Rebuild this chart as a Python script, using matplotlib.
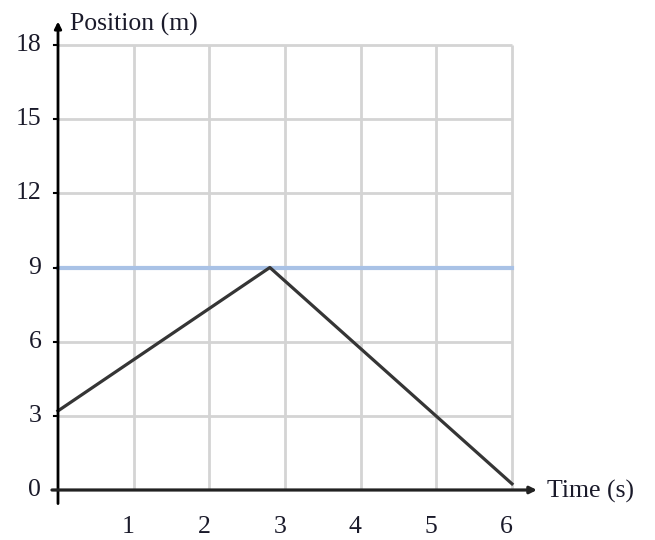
import matplotlib
matplotlib.use("Agg")
import matplotlib.pyplot as plt

# Data
time_s = [0, 2.8, 6]
position_m = [3.2, 9.0, 0.25]
ref_level = 9
x_ticks = [1, 2, 3, 4, 5, 6]
y_ticks = [0, 3, 6, 9, 12, 15, 18]
x_label = "Time (s)"
y_label = "Position (m)"

plt.rcParams['font.family'] = ['Liberation Serif', 'DejaVu Serif']

W, H = 655, 540
fig = plt.figure(figsize=(W / 100, H / 100), dpi=100)
ax = fig.add_axes([58 / W, (H - 490) / H, (512 - 58) / W, (490 - 45) / H])
ax.set_xlim(0, 6)
ax.set_ylim(0, 18)
for s in ax.spines.values():
    s.set_visible(False)

# grid
for xv in x_ticks:
    ax.plot([xv, xv], [0, 18], color='#d4d4d4', lw=2, zorder=1, solid_capstyle='butt', clip_on=False)
for yv in y_ticks[1:]:
    ax.plot([0, 6], [yv, yv], color='#d4d4d4', lw=2, zorder=1, solid_capstyle='butt', clip_on=False)

# reference line
ax.plot([0, 6], [ref_level, ref_level], color='#a9c2e6', lw=3, zorder=2, clip_on=False)
# position line
ax.plot(time_s, position_m, color='#353535', lw=2.3, zorder=3, clip_on=False)

# axes with arrows
ax.annotate('', xy=(0, 18.95), xytext=(0, -0.55), xycoords='data',
            arrowprops=dict(arrowstyle='-|>', color='black', lw=2, mutation_scale=10,
                            shrinkA=0, shrinkB=0), annotation_clip=False, zorder=5)
ax.annotate('', xy=(6.33, 0), xytext=(-0.08, 0), xycoords='data',
            arrowprops=dict(arrowstyle='-|>', color='#222222', lw=2.3, mutation_scale=10,
                            shrinkA=0, shrinkB=0), annotation_clip=False, zorder=5)

ax.set_xticks([])
ax.set_yticks([])
txtcol = '#1a1a2a'
fs = 18.5
for xv in x_ticks:
    ax.text(xv - 0.07, -1.5, str(xv), ha='center', va='center', fontsize=fs, color=txtcol)
for yv in y_ticks:
    ax.text(-0.22, yv, str(yv), ha='right', va='center', fontsize=fs, color=txtcol)
    ax.plot([-0.05, 0], [yv, yv], color='black', lw=1.5, clip_on=False)

ax.text(0.16, 18.85, y_label, ha='left', va='center', fontsize=fs, color=txtcol)
ax.text(6.46, -0.05, x_label, ha='left', va='center', fontsize=fs, color=txtcol)

fig.savefig('out.png', dpi=100)
